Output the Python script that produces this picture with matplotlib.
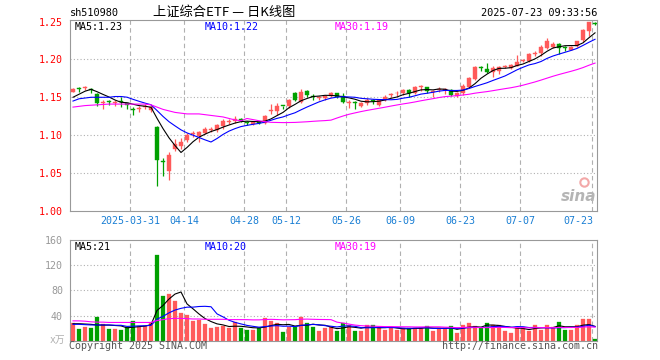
import matplotlib
matplotlib.use('Agg')
import matplotlib.pyplot as plt
import matplotlib.transforms as mtransforms
import numpy as np
import pandas as pd

plt.rcParams['font.family'] = ['DejaVu Sans Mono', 'Noto Sans CJK SC']

# ---------------- data ----------------
opens = [1.1575, 1.162, 1.162, 1.161, 1.154, 1.142, 1.145, 1.142, 1.145, 1.142,
         1.135, 1.134, 1.137, 1.133, 1.111, 1.066, 1.052, 1.082, 1.086, 1.094,
         1.101, 1.099, 1.103, 1.107, 1.107, 1.112, 1.117, 1.119, 1.121, 1.117,
         1.115, 1.117, 1.116, 1.132, 1.132, 1.139, 1.138, 1.156, 1.144, 1.158,
         1.152, 1.149, 1.149, 1.152, 1.155, 1.152, 1.142, 1.144, 1.139, 1.142,
         1.146, 1.140, 1.147, 1.153, 1.155, 1.155, 1.160, 1.156, 1.163, 1.163,
         1.157, 1.159, 1.160, 1.160, 1.152, 1.155, 1.163, 1.174, 1.190, 1.188,
         1.183, 1.185, 1.190, 1.189, 1.192, 1.198, 1.198, 1.207, 1.208, 1.215,
         1.216, 1.221, 1.216, 1.213, 1.218, 1.226, 1.238, 1.248]
highs = [1.162, 1.164, 1.165, 1.162, 1.155, 1.146, 1.147, 1.147, 1.151, 1.143,
         1.137, 1.138, 1.141, 1.140, 1.112, 1.070, 1.078, 1.095, 1.096, 1.103,
         1.105, 1.106, 1.111, 1.111, 1.115, 1.121, 1.121, 1.125, 1.122, 1.118,
         1.118, 1.118, 1.127, 1.141, 1.142, 1.139, 1.148, 1.157, 1.161, 1.159,
         1.154, 1.152, 1.153, 1.157, 1.156, 1.155, 1.147, 1.145, 1.144, 1.149,
         1.148, 1.147, 1.153, 1.156, 1.158, 1.161, 1.161, 1.165, 1.166, 1.164,
         1.160, 1.163, 1.162, 1.161, 1.157, 1.168, 1.177, 1.192, 1.192, 1.195,
         1.191, 1.192, 1.193, 1.194, 1.206, 1.201, 1.208, 1.211, 1.219, 1.229,
         1.223, 1.222, 1.218, 1.218, 1.225, 1.240, 1.250, 1.250]
lows = [1.157, 1.1575, 1.159, 1.155, 1.139, 1.134, 1.140, 1.139, 1.1375, 1.134,
        1.126, 1.131, 1.134, 1.131, 1.033, 1.046, 1.040, 1.079, 1.081, 1.091,
        1.098, 1.091, 1.101, 1.104, 1.104, 1.108, 1.114, 1.116, 1.117, 1.113,
        1.113, 1.114, 1.114, 1.128, 1.127, 1.134, 1.136, 1.145, 1.143, 1.150,
        1.146, 1.146, 1.147, 1.150, 1.149, 1.143, 1.136, 1.135, 1.137, 1.140,
        1.141, 1.139, 1.145, 1.151, 1.152, 1.153, 1.150, 1.154, 1.158, 1.156,
        1.151, 1.157, 1.154, 1.152, 1.151, 1.153, 1.162, 1.173, 1.185, 1.182,
        1.177, 1.181, 1.189, 1.188, 1.191, 1.196, 1.197, 1.205, 1.204, 1.214,
        1.215, 1.207, 1.211, 1.212, 1.217, 1.223, 1.231, 1.245]
closes = [1.161, 1.161, 1.163, 1.159, 1.143, 1.143, 1.144, 1.143, 1.144, 1.140,
          1.133, 1.135, 1.139, 1.137, 1.067, 1.065, 1.074, 1.088, 1.091, 1.100,
          1.103, 1.104, 1.108, 1.1085, 1.113, 1.119, 1.118, 1.121, 1.118, 1.116,
          1.117, 1.116, 1.125, 1.133, 1.138, 1.138, 1.147, 1.147, 1.157, 1.153,
          1.151, 1.150, 1.152, 1.156, 1.151, 1.144, 1.143, 1.143, 1.143, 1.147,
          1.145, 1.146, 1.151, 1.154, 1.156, 1.160, 1.155, 1.163, 1.165, 1.158,
          1.158, 1.161, 1.161, 1.153, 1.156, 1.165, 1.176, 1.190, 1.189, 1.183,
          1.189, 1.190, 1.191, 1.193, 1.197, 1.199, 1.207, 1.208, 1.216, 1.224,
          1.221, 1.215, 1.215, 1.217, 1.224, 1.239, 1.249, 1.247]
volumes = [27.5, 18.5, 21.6, 20.0, 37.4, 26.4, 18.5, 18.5, 16.9, 22.0,
           31.0, 23.2, 23.2, 27.5, 135.4, 70.6, 74.3, 62.7, 44.2, 40.6,
           31.6, 33.2, 26.4, 20.5, 22.1, 23.2, 20.5, 29.0, 19.6, 16.9,
           16.9, 19.6, 35.4, 31.1, 27.5, 13.3, 22.1, 22.1, 37.4, 27.5,
           22.1, 15.3, 20.5, 22.1, 15.8, 27.5, 24.8, 15.8, 15.8, 24.8,
           24.8, 21.2, 16.9, 20.5, 16.9, 19.6, 20.5, 20.5, 20.5, 23.2,
           15.8, 19.6, 19.6, 23.7, 11.7, 24.8, 28.4, 23.2, 19.6, 28.4,
           24.8, 24.8, 15.8, 12.6, 22.1, 22.1, 15.8, 24.8, 16.9, 24.8,
           22.1, 30.0, 16.9, 16.9, 24.8, 34.8, 34.8, 2.5]

# moving-average values before the full window is available
ma5_head = [1.150, 1.154, 1.158, 1.1605]
ma10_head = [1.145, 1.148, 1.149, 1.150, 1.150, 1.150, 1.150, 1.151, 1.151]
ma30_head = [1.137, 1.138, 1.139, 1.1395, 1.140, 1.1405, 1.141, 1.141, 1.141, 1.141,
             1.141, 1.141, 1.141, 1.140, 1.137, 1.134, 1.132, 1.130, 1.129, 1.128,
             1.128, 1.128, 1.127, 1.126, 1.125, 1.124, 1.122, 1.120, 1.119]
vma5_head = [27.0, 27.0, 26.5, 26.0]
vma10_head = [26.0, 26.0, 25.5, 25.0, 25.0, 25.0, 25.0, 24.5, 24.5]
vma30_head = [31.5, 31.5, 31.0, 30.0, 29.5, 29.5, 29.0, 29.0, 29.0, 29.0,
              29.0, 29.0, 29.0, 29.0, 32.0, 33.5, 35.0, 35.5, 35.5, 35.0,
              34.5, 34.5, 34.0, 34.0, 34.0, 34.0, 33.5, 33.5, 33.5]

tick_pos = [10, 19, 29, 36, 46, 55, 65, 75, 87]
tick_labels = ['2025-03-31', '04-14', '04-28', '05-12', '05-26', '06-09', '06-23', '07-07', '07-23']
price_ticks = [1.00, 1.05, 1.10, 1.15, 1.20, 1.25]
vol_ticks = [40, 80, 120, 160]

code_text = 'sh510980'
title_text = '上证综合ETF — 日K线图'
time_text = '2025-07-23 09:33:56'
price_ma_labels = ['MA5:1.23', 'MA10:1.22', 'MA30:1.19']
vol_ma_labels = ['MA5:21', 'MA10:20', 'MA30:19']

# ---------------- helpers ----------------
def moving_avg(values, n, head):
    s = pd.Series(values, dtype=float).rolling(n).mean().to_numpy()
    s[:n - 1] = head
    return s

RED = '#ff5a5a'
GREEN = '#00a000'
GRID = '#b0b0b0'
FRAME = '#999999'
LBLUE = '#1a7fd4'

W, H = 660, 360
fig = plt.figure(figsize=(6.6, 3.6), dpi=100)
fig.patch.set_facecolor('white')

def px_axes(x0, y0, x1, y1):
    return fig.add_axes([x0 / W, 1 - y1 / H, (x1 - x0) / W, (y1 - y0) / H])

ax = px_axes(70, 20, 597, 211)
axv = px_axes(70, 240, 597, 340.7)

o = np.array(opens); h = np.array(highs); l = np.array(lows); c = np.array(closes)
v = np.array(volumes)
x = np.arange(len(c))
up = c >= o
cols = [RED if u else GREEN for u in up]

# ---------------- price panel ----------------
for a in (ax, axv):
    a.set_xlim(-0.5, 87.33)
    for s in a.spines.values():
        s.set_color(FRAME)
        s.set_linewidth(0.8)
    a.tick_params(length=0)
    for tp in tick_pos:
        a.axvline(tp - 0.5, color=GRID, lw=0.8, ls=(0, (4, 3)), zorder=0)

ax.set_ylim(0.9996, 1.2522)
for pv in price_ticks[1:-1]:
    ax.axhline(pv, color=GRID, lw=0.8, ls=(0, (1, 2)), zorder=0)

ax.vlines(x, l, h, colors=cols, lw=0.9, zorder=2)
body_h = np.maximum(np.abs(c - o), 0.0012)
ax.bar(x, body_h, width=0.75, bottom=np.minimum(o, c), color=cols, edgecolor=cols,
       linewidth=0.3, zorder=3)

ma5 = moving_avg(c, 5, ma5_head)
ma10 = moving_avg(c, 10, ma10_head)
ma30 = moving_avg(c, 30, ma30_head)
ax.plot(x, ma5, color='black', lw=0.8, zorder=4)
ax.plot(x, ma10, color='#0000ff', lw=0.8, zorder=4)
ax.plot(x, ma30, color='#ff00ff', lw=0.8, zorder=4)

ax.set_yticks(price_ticks)
ax.set_yticklabels([f'{t:.2f}' for t in price_ticks], color='#ff0000', fontsize=7.2)
ax.tick_params(axis='y', pad=5)
ax.set_xticks([])

trans = mtransforms.blended_transform_factory(ax.transData, ax.transAxes)
for tp, lab in zip(tick_pos, tick_labels):
    ha = 'right' if tp == tick_pos[-1] else 'center'
    ax.text(tp - 0.5 + (0.2 if ha == 'right' else 0), -0.052, lab, transform=trans,
            ha=ha, va='center', color=LBLUE, fontsize=7.2)

# sina watermark
ax.text(0.965, 0.075, 'sina', transform=ax.transAxes, color='#b5b5b5', fontsize=11,
        style='italic', weight='bold', family='DejaVu Sans', ha='center', va='center')
ax.plot([0.975], [0.15], 'o', mfc='none', mec='#f3a8a8', ms=6, mew=1.5,
        transform=ax.transAxes)

# ---------------- volume panel ----------------
axv.set_ylim(0, 160)
for vv in vol_ticks[:-1]:
    axv.axhline(vv, color=GRID, lw=0.8, ls=(0, (1, 2)), zorder=0)
vcols = cols
axv.bar(x, v, width=0.82, color=vcols, edgecolor=vcols, linewidth=0.2, zorder=2)
vma5 = moving_avg(v, 5, vma5_head)
vma10 = moving_avg(v, 10, vma10_head)
vma30 = moving_avg(v, 30, vma30_head)
axv.plot(x, vma5, color='black', lw=0.8, zorder=4)
axv.plot(x, vma10, color='#0000ff', lw=0.8, zorder=4)
axv.plot(x, vma30, color='#ff00ff', lw=0.8, zorder=4)
axv.set_yticks(vol_ticks)
axv.set_yticklabels([str(t) for t in vol_ticks], color='#999999', fontsize=7.2)
axv.tick_params(axis='y', pad=5)
axv.set_xticks([])

# ---------------- texts ----------------
def ftext(px, py, s, **kw):
    fig.text(px / W, 1 - py / H, s, **kw)

ftext(70, 13, code_text, ha='left', va='center', fontsize=7.4)
ftext(224.5, 12.5, title_text, ha='center', va='center', fontsize=9.5,
      family=['Noto Sans CJK SC', 'DejaVu Sans'])
ftext(597, 13, time_text, ha='right', va='center', fontsize=7.4)

ma_cols = ['black', '#0000ff', '#ff00ff']
for xp, lab, col in zip([75, 205, 335], price_ma_labels, ma_cols):
    ftext(xp, 26.5, lab, ha='left', va='center', fontsize=7.2, color=col)
for xp, lab, col in zip([75, 205, 335], vol_ma_labels, ma_cols):
    ftext(xp, 246.5, lab, ha='left', va='center', fontsize=7.2, color=col)

ftext(65, 340, 'x万', ha='right', va='center', fontsize=7, color='#b0b0b0')
ftext(69, 346, 'Copyright 2025 SINA.COM', ha='left', va='center', fontsize=7.2, color='#555555')
ftext(598, 346, 'http://finance.sina.com.cn', ha='right', va='center', fontsize=7.2, color='#555555')

fig.savefig('out.png', dpi=100, facecolor='white')
